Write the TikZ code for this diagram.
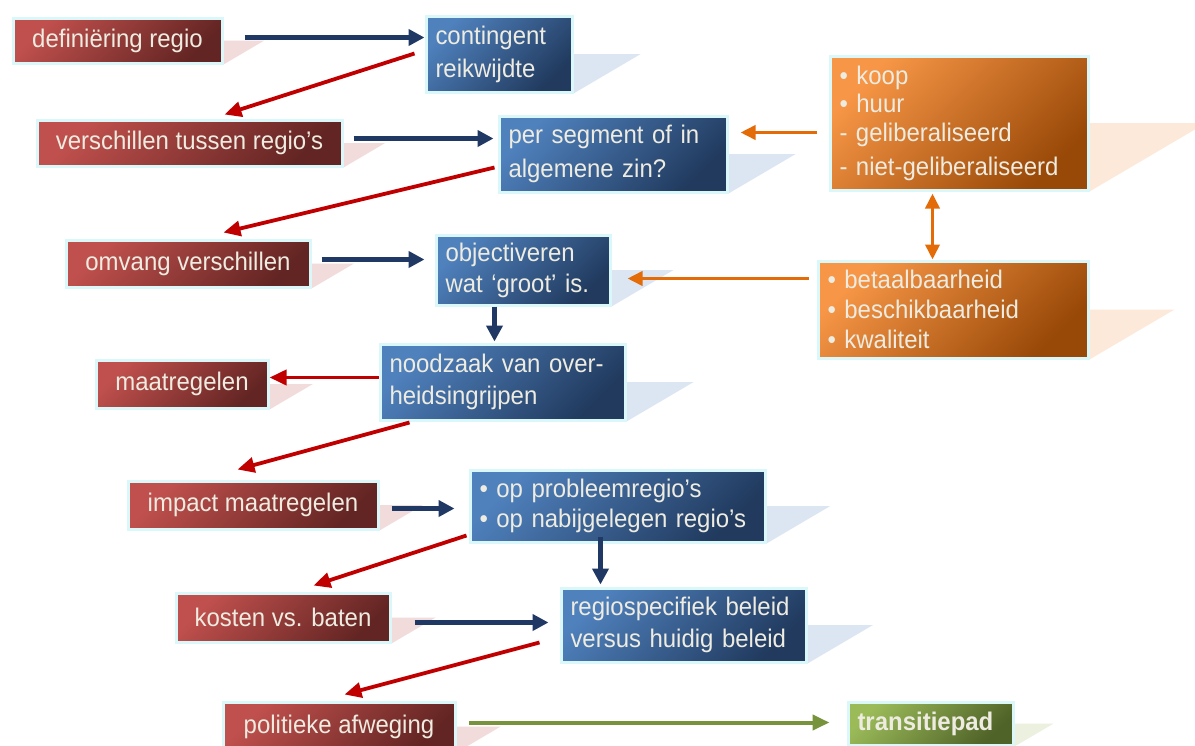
\documentclass[tikz,border=0pt]{standalone}
\usepackage{fontspec}
\setmainfont{Liberation Sans}[FakeStretch=0.94]
\usetikzlibrary{calc,arrows.meta,backgrounds}
\definecolor{rA}{HTML}{C0504D}
\definecolor{rB}{HTML}{632523}
\definecolor{bA}{HTML}{4F81BD}
\definecolor{bB}{HTML}{213A5E}
\definecolor{oA}{HTML}{F79646}
\definecolor{oB}{HTML}{984807}
\definecolor{gA}{HTML}{9BBB59}
\definecolor{gB}{HTML}{4F6228}
\definecolor{bord}{HTML}{DAF7FA}
\definecolor{txt}{HTML}{EEECE1}
\definecolor{rS}{HTML}{F2DCDB}
\definecolor{bS}{HTML}{DCE6F2}
\definecolor{oS}{HTML}{FDE9D9}
\definecolor{gS}{HTML}{EBF1DE}
\definecolor{arB}{HTML}{1F3864}
\definecolor{arR}{HTML}{C00000}
\definecolor{arO}{HTML}{E36C09}
\definecolor{arG}{HTML}{77933C}
\begin{document}
\begin{tikzpicture}[x=1pt,y=-1pt,
  box/.style={draw=bord, line width=3pt, anchor=north west, inner xsep=9.5pt, inner ysep=0pt, text=txt, font=\fontsize{25.5}{33}\selectfont},
  redbox/.style={box, top color=rA, bottom color=rB, shading angle=45, align=center},
  bluebox/.style={box, top color=bA, bottom color=bB, shading angle=45, align=left},
  orangebox/.style={box, top color=oA, bottom color=oB, shading angle=45, align=left},
  greenbox/.style={box, top color=gA, bottom color=gB, shading angle=45, align=left},
  arrB/.style={draw=arB, line width=4.5pt, -{Triangle[length=16pt,width=16pt]}},
  arrR/.style={draw=arR, line width=3.8pt, -{Triangle[length=17pt,width=15pt]}},
  arrO/.style={draw=arO, line width=3.6pt, -{Triangle[length=15pt,width=14pt]}},
  arrOO/.style={draw=arO, line width=3.6pt, {Triangle[length=15pt,width=14pt]}-{Triangle[length=15pt,width=14pt]}},
  arrG/.style={draw=arG, line width=4pt, -{Triangle[length=17pt,width=15pt]}}
]
\useasboundingbox (0,0) rectangle (1195,745);

% red boxes
\node[redbox, minimum width=209pt, minimum height=45pt] (def) at (11.5,16.5) {definiëring regio};
\node[redbox, minimum width=305pt, minimum height=46pt] (vers) at (35.5,118.5) {verschillen tussen regio’s};
\node[redbox, minimum width=244pt, minimum height=47pt] (omv) at (64.5,238.5) {omvang verschillen};
\node[redbox, minimum width=172pt, minimum height=48pt] (maat) at (94.5,358.5) {maatregelen};
\node[redbox, minimum width=250pt, minimum height=48pt] (imp) at (126.5,479.5) {impact maatregelen};
\node[redbox, minimum width=214pt, minimum height=49pt] (kost) at (174.5,591.5) {kosten vs. baten};
\node[redbox, minimum width=232pt, minimum height=49pt] (pol) at (221.5,700.5) {politieke afweging};

% blue boxes
\node[bluebox, text width=127pt, minimum height=76pt] (cont) at (424.5,14.5) {contingent\\reikwijdte};
\node[bluebox, text width=209pt, minimum height=76pt, font=\fontsize{25.5}{34}\selectfont] (seg) at (497.5,114.5) {per segment of in\\algemene zin?};
\node[bluebox, text width=155pt, minimum height=70pt, font=\fontsize{25.5}{31}\selectfont] (obj) at (434.5,233.5) {objectiveren\\wat ‘groot’ is.};
\node[bluebox, text width=226pt, minimum height=76pt, font=\fontsize{25.5}{32}\selectfont] (nood) at (378.5,342.5) {noodzaak van over-\\heidsingrijpen};
\node[bluebox, text width=276pt, minimum height=72pt, font=\fontsize{25.5}{30}\selectfont] (op) at (468.5,468.5) {• op probleemregio’s\\• op nabijgelegen regio’s};
\node[bluebox, text width=226pt, minimum height=74pt, font=\fontsize{25.5}{32}\selectfont] (reg) at (559.5,586.5) {regiospecifiek beleid\\versus huidig beleid};

% orange boxes
\node[orangebox, text width=239pt, minimum height=134pt, font=\fontsize{25.5}{28.5}\selectfont] (koop) at (828.5,54.5) {• koop\\• huur\\- geliberaliseerd\\[5.5pt]- niet-geliberaliseerd};
\node[orangebox, text width=251pt, minimum height=97pt, font=\fontsize{25.5}{30}\selectfont] (bet) at (816.5,259.5) {• betaalbaarheid\\• beschikbaarheid\\• kwaliteit};

% green box
\node[greenbox, text width=146pt, minimum height=43pt, font=\fontsize{25.5}{30}\selectfont\bfseries] (tr) at (846.5,700.5) {transitiepad};

% shadows
\begin{pgfonlayer}{background}
\fill[white] (0,0) rectangle (1195,745);
\foreach \nm/\cl in {def/rS,vers/rS,omv/rS,maat/rS,imp/rS,kost/rS,pol/rS,cont/bS,seg/bS,obj/bS,nood/bS,op/bS,reg/bS,koop/oS,bet/oS,tr/gS}{
  \fill[\cl] let \p1=(\nm.north east), \p2=(\nm.south east) in
    (\nm.east) -- ++({0.85*(\y1-\y2)},0) -- (\nm.south east) -- cycle;
}
\end{pgfonlayer}

% blue arrows
\draw[arrB] ($(def.east)+(21,-3)$) coordinate (b1) -- (b1 -| cont.west);
\draw[arrB, shorten >=4pt] ($(vers.east)+(10,-4.5)$) coordinate (b2) -- (b2 -| seg.west);
\draw[arrB, shorten >=10pt] ($(omv.east)+(10,-4)$) coordinate (b3) -- (b3 -| obj.west);
\draw[arrB, shorten >=1pt] ($(obj.south)+(-28.5,0)$) coordinate (b4) -- (b4 |- nood.north);
\draw[arrB, shorten >=14pt] ($(imp.east)+(12,3.5)$) coordinate (b5) -- (b5 -| op.west);
\draw[arrB, shorten >=2pt] ($(op.south)+(-17,-7)$) coordinate (b6) -- (b6 |- reg.north);
\draw[arrB, shorten >=11pt] ($(kost.east)+(23,5)$) coordinate (b7) -- (b7 -| reg.west);

% red arrows
\draw[arrR] ($(cont.west)+(-10,-0.5)$) -- ($(vers.north)+(35,-4)$);
\draw[arrR] ($(seg.west)+(-3,13.5)$) -- ($(omv.north)+(35.5,-6)$);
\draw[arrR] ($(nood.west)+(0,-4.5)$) coordinate (r3) -- (r3 -| maat.east);
\draw[arrR] ($(nood.south west)+(31,1)$) -- ($(imp.north)+(-15.5,-10)$);
\draw[arrR] ($(op.south west)+(-2,-8)$) -- ($(kost.north)+(30.5,-6)$);
\draw[arrR] ($(reg.west)+(-20,17.5)$) -- ($(pol.north)+(5.5,-6)$);

% orange arrows
\draw[arrO, shorten >=12pt] ($(koop.west)+(-12,9.5)$) coordinate (o1) -- (o1 -| seg.east);
\draw[arrO, shorten >=16pt] ($(bet.west)+(-8,-31)$) coordinate (o2) -- (o2 -| obj.east);
\draw[arrOO, shorten <=2pt] ($(koop.south)+(-26.5,0)$) coordinate (o3) -- (o3 |- bet.north);

% green arrow
\draw[arrG, shorten >=17pt] ($(pol.east)+(12,-4)$) coordinate (g1) -- (g1 -| tr.west);
\end{tikzpicture}
\end{document}
